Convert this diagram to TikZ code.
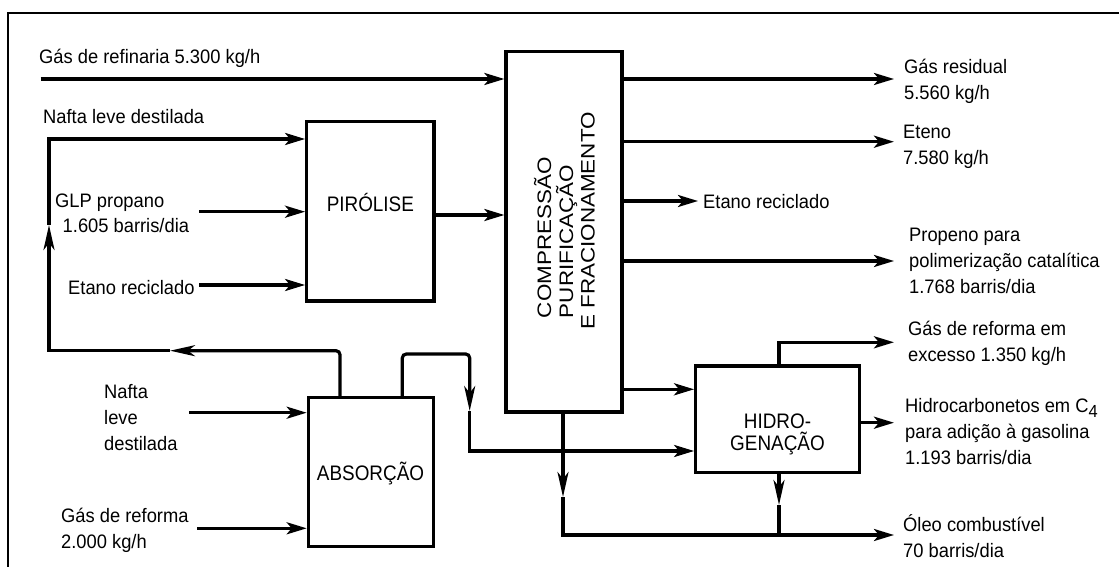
\documentclass[tikz,border=0pt]{standalone}
\usepackage{fontspec}
\setmainfont{Liberation Sans}
\usetikzlibrary{arrows.meta}
\newcommand{\Lft}[1]{\vtop{\lineskiplimit=-\maxdimen\halign{##\hfil\cr#1\crcr}}}
\newcommand{\Ctr}[1]{\vtop{\lineskiplimit=-\maxdimen\halign{\hfil##\hfil\cr#1\crcr}}}
\newcommand{\nl}[1]{\scalebox{0.94}[1]{#1}}
\begin{document}
\begin{tikzpicture}[x=1pt,y=-1pt,
  procbox/.style={draw, line width=3.2pt, inner sep=0pt},
  lbl/.style={anchor=base west, inner sep=0pt, font=\fontsize{19.5}{26}\selectfont},
  btxt/.style={anchor=base, inner sep=0pt, font=\fontsize{21}{22}\selectfont},
  rtxt/.style={anchor=base west, rotate=90, inner sep=0pt, font=\fontsize{19.5}{21}\selectfont},
  seg/.style={line width=3.2pt},
  flow/.style={line width=3.2pt, -{Stealth[length=20pt,width=12pt,inset=5pt]}},
  midflow/.style={line width=3.2pt, -{Stealth[length=25pt,width=11pt,inset=7pt]}}]
\useasboundingbox (0,0) rectangle (1119,567);
\fill[white] (0,0) rectangle (1119,567);
\clip (0,0) rectangle (1119,567);
\draw[line width=1.8pt] (8.3,12.7) rectangle (1140,590);

% boxes
\node[procbox, minimum width=116pt, minimum height=360.3pt] (comp) at (564,231.85) {};
\node[procbox, minimum width=127.3pt, minimum height=179.3pt] (pyr) at (370.35,211.35) {};
\node[procbox, minimum width=125.4pt, minimum height=149.2pt] (abs) at (371,472.1) {};
\node[procbox, minimum width=163.6pt, minimum height=106.7pt] (hyd) at (777.5,419.35) {};

% box texts
\node[btxt] (pyrt) at (370.35,211.7) {\scalebox{0.9}[1]{PIRÓLISE}};
\node[btxt] (abst) at (370.5,480) {\scalebox{0.9}[1]{ABSORÇÃO}};
\node[btxt] (hydt) at (777.5,428.3) {\scalebox{0.9}[1]{\Ctr{HIDRO-\cr GENAÇÃO}}};
\node[rtxt] (c1) at (551,318.3) {\scalebox{1.15}[1]{COMPRESSÃO}};
\node[rtxt] (c2) at (573,318.3) {\scalebox{1.15}[1]{PURIFICAÇÃO}};
\node[rtxt] (c3) at (594.5,330) {\scalebox{1.15}[1]{E FRACIONAMENTO}};

% labels left
\node[lbl] (l1) at (39,64) {\nl{Gás de refinaria 5.300 kg/h}};
\node[lbl] (l2) at (43,124) {\nl{Nafta leve destilada}};
\node[lbl, font=\fontsize{19.5}{25}\selectfont] (l3) at (55,207) {\nl{\Lft{GLP propano\cr\kern8pt 1.605 barris/dia}}};
\node[lbl] (l4) at (68,294) {\nl{Etano reciclado}};
\node[lbl] (l5) at (104,398.3) {\nl{\Lft{Nafta\cr leve\cr destilada}}};
\node[lbl] (l6) at (61,522.7) {\nl{\Lft{Gás de reforma\cr 2.000 kg/h}}};

% labels right
\node[lbl] (r1) at (904,74) {\nl{\Lft{Gás residual\cr 5.560 kg/h}}};
\node[lbl] (r2) at (903,139) {\nl{\Lft{Eteno\cr 7.580 kg/h}}};
\node[lbl] (r3) at (703,208) {\nl{Etano reciclado}};
\node[lbl] (r4) at (909,241) {\nl{\Lft{Propeno para\cr polimerização catalítica\cr 1.768 barris/dia}}};
\node[lbl] (r5) at (908,335) {\nl{\Lft{Gás de reforma em\cr excesso 1.350 kg/h}}};
\node[lbl] (r6) at (905,412.7) {\nl{\Lft{Hidrocarbonetos em C\raisebox{-4.5pt}{\fontsize{17.5}{17.5}\selectfont 4}\cr para adição à gasolina\cr 1.193 barris/dia}}};
\node[lbl] (r7) at (903,531) {\nl{\Lft{Óleo combustível\cr 70 barris/dia}}};

% coordinates
\coordinate (refin) at (40.7,79);
\coordinate (naf) at (49,139);
\coordinate (glp) at (199,211.7);
\coordinate (eta) at (199,285);
\coordinate (pc) at (434,215);
\coordinate (o1) at (894,79);
\coordinate (o2) at (894,141.7);
\coordinate (o3) at (698,201);
\coordinate (o4) at (894,261);
\coordinate (ch) at (695.7,389.3);
\coordinate (lr) at (340,350.7);
\coordinate (ra) at (170,350.7);
\coordinate (lb) at (49,350.7);
\coordinate (ua) at (49,225);
\coordinate (rr1) at (402.3,354);
\coordinate (rr2) at (469.7,354);
\coordinate (da) at (469.7,411);
\coordinate (rr3) at (469.7,451);
\coordinate (cb) at (563,497);
\coordinate (cb2) at (563,535);
\coordinate (oleo) at (894,535);
\coordinate (hb) at (779,505);
\coordinate (gr) at (894,342.3);
\coordinate (hc) at (894,422.7);
\coordinate (an) at (189.3,412.7);
\coordinate (ag) at (197.3,528.3);

% connectors
\draw[flow] (refin) -- (comp.west |- refin);
\draw[flow] (glp) -- (pyr.west |- glp);
\draw[flow] (eta) -- (pyr.west |- eta);
\draw[flow] (pyr.east |- pc) -- (comp.west |- pc);
\draw[flow] (comp.east |- o1) -- (o1);
\draw[flow] (comp.east |- o2) -- (o2);
\draw[flow] (comp.east |- o3) -- (o3);
\draw[flow] (comp.east |- o4) -- (o4);
\draw[flow] (comp.east |- ch) -- (hyd.west |- ch);

\draw[midflow, rounded corners=4pt] (abs.north -| lr) -- (lr) -- (ra);
\draw[midflow] (ra) -- (lb) -- (ua);
\draw[flow] (ua) -- (naf) -- (pyr.west |- naf);

\draw[midflow, rounded corners=4pt] (abs.north -| rr1) -- (rr1) -- (rr2) -- (da);
\draw[flow] (da) -- (rr3) -- (hyd.west |- rr3);

\draw[midflow] (comp.south -| cb) -- (cb);
\draw[flow] (cb) -- (cb2) -- (oleo);

\draw[midflow] (hyd.south -| hb) -- (hb);
\draw[seg] (hb) -- (hb |- oleo);
\draw[flow] (hyd.north -| hb) |- (gr);
\draw[flow] (hyd.east |- hc) -- (hc);

\draw[flow] (an) -- (abs.west |- an);
\draw[flow] (ag) -- (abs.west |- ag);
\end{tikzpicture}
\end{document}
